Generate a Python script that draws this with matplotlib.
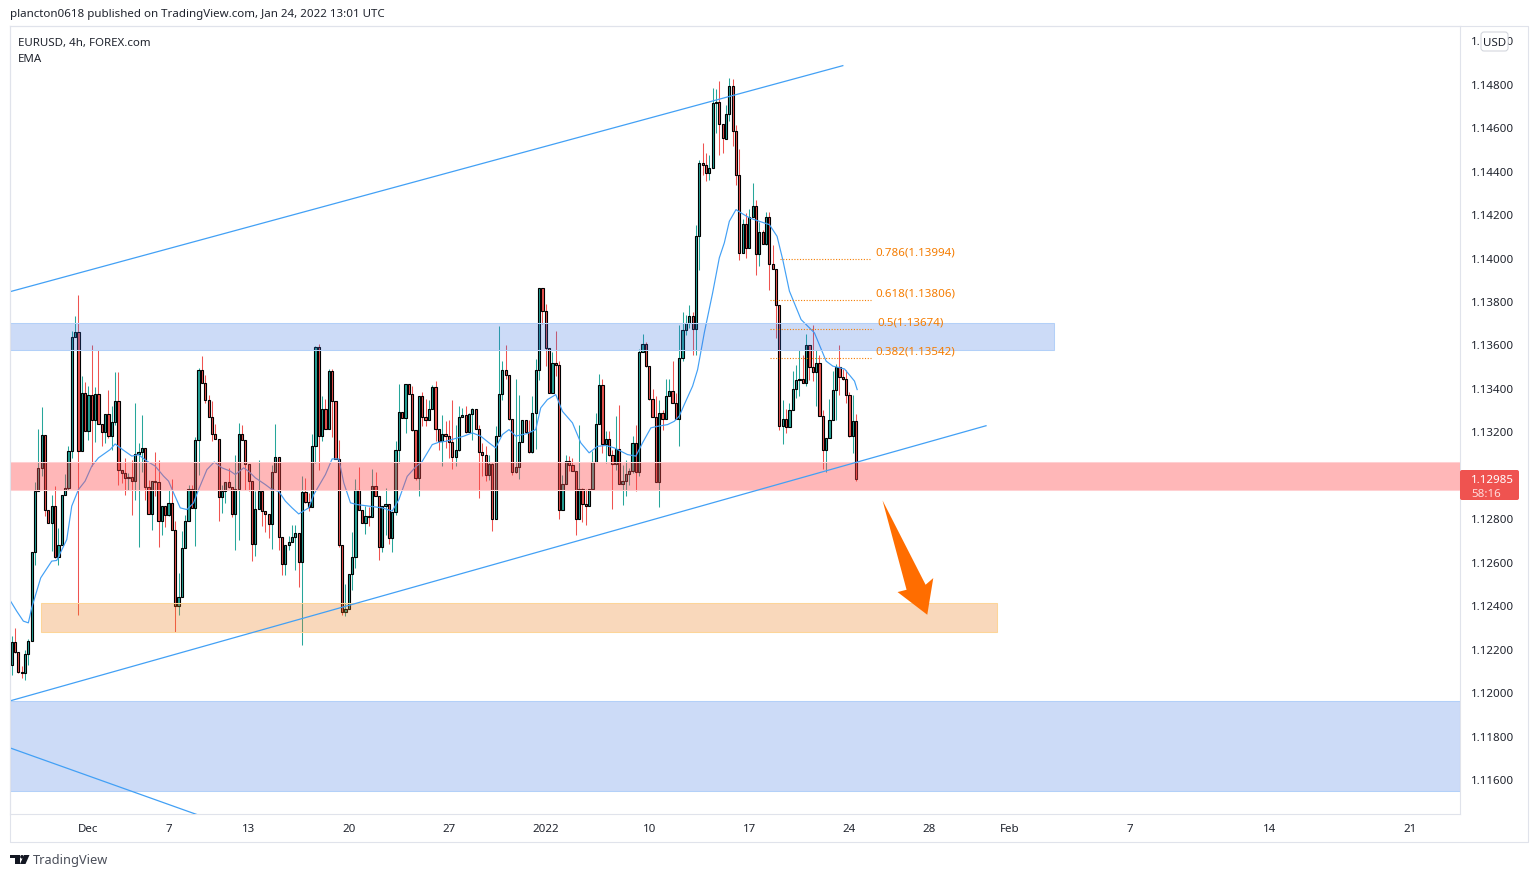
import matplotlib
matplotlib.use("Agg")
import matplotlib.pyplot as plt
from matplotlib.patches import Polygon, Rectangle, FancyBboxPatch, Circle
from matplotlib.transforms import ScaledTranslation

plt.rcParams['font.family'] = ['Noto Sans', 'DejaVu Sans']

# Velas de 4h
first_open = 1.12130
closes = [
    1.12235, 1.12189, 1.12095, 1.12091, 1.12179, 1.12238, 1.12649, 1.12929, 1.13035, 1.13187,
    1.12842, 1.12782, 1.12859, 1.12626, 1.12681, 1.12911, 1.12941, 1.13113, 1.13637, 1.13660,
    1.13113, 1.13378, 1.13205, 1.13371, 1.13256, 1.13375, 1.13237, 1.13199, 1.13283, 1.13181,
    1.13245, 1.13343, 1.13026, 1.13010, 1.12989, 1.12992, 1.12974, 1.13098, 1.13107, 1.13127,
    1.12947, 1.12823, 1.12975, 1.12972, 1.12791, 1.12859, 1.12819, 1.12874, 1.12750, 1.12400,
    1.12442, 1.12667, 1.12791, 1.12938, 1.12852, 1.13164, 1.13487, 1.13426, 1.13348, 1.13269,
    1.13191, 1.13168, 1.12901, 1.12929, 1.12971, 1.12947, 1.12823, 1.12938, 1.13191, 1.13164,
    1.13053, 1.12973, 1.12685, 1.12846, 1.12929, 1.12837, 1.12823, 1.12777, 1.13016, 1.13085,
    1.12717, 1.12593, 1.12681, 1.12694, 1.12717, 1.12736, 1.12602, 1.12924, 1.12877, 1.12855,
    1.13136, 1.13591, 1.13180, 1.13306, 1.13214, 1.13481, 1.13343, 1.13076, 1.12679, 1.12373,
    1.12386, 1.12547, 1.12626, 1.12934, 1.12842, 1.12782, 1.12813, 1.12808, 1.12952, 1.12906,
    1.12671, 1.12859, 1.12869, 1.12713, 1.12832, 1.13116, 1.13292, 1.13265, 1.13421, 1.13375,
    1.13211, 1.12989, 1.13364, 1.13268, 1.13254, 1.13306, 1.13407, 1.13214, 1.13157, 1.13190,
    1.13181, 1.13154, 1.13085, 1.13118, 1.13269, 1.13279, 1.13199, 1.13283, 1.13306, 1.13214,
    1.13108, 1.13095, 1.13001, 1.13053, 1.12800, 1.13181, 1.13374, 1.13484, 1.13461, 1.13260,
    1.13016, 1.13039, 1.13154, 1.13256, 1.13200, 1.13108, 1.13288, 1.13486, 1.13863, 1.13755,
    1.13587, 1.13380, 1.13518, 1.13507, 1.12842, 1.12961, 1.13066, 1.13047, 1.13020, 1.12800,
    1.12938, 1.12869, 1.12859, 1.12938, 1.13062, 1.13237, 1.13417, 1.13144, 1.13168, 1.13095,
    1.13053, 1.13122, 1.12961, 1.12975, 1.13007, 1.13021, 1.13150, 1.13016, 1.13568, 1.13605,
    1.13504, 1.13352, 1.13269, 1.12970, 1.13288, 1.13260, 1.13366, 1.13387, 1.13334, 1.13260,
    1.13541, 1.13670, 1.13702, 1.13733, 1.13674, 1.14102, 1.14438, 1.14427, 1.14392, 1.14415,
    1.14714, 1.14718, 1.14617, 1.14550, 1.14663, 1.14792, 1.14585, 1.14383, 1.14024, 1.14157,
    1.14045, 1.14189, 1.14240, 1.14019, 1.14120, 1.14065, 1.14189, 1.13972, 1.13950, 1.13783,
    1.13228, 1.13260, 1.13224, 1.13302, 1.13398, 1.13440, 1.13442, 1.13424, 1.13601, 1.13500,
    1.13477, 1.13518, 1.13273, 1.13118, 1.13173, 1.13256, 1.13394, 1.13500, 1.13454, 1.13444,
    1.13371, 1.13181, 1.13251, 1.12985,
]
highs = [
    1.12261, 1.12299, 1.12189, 1.12123, 1.12199, 1.12248, 1.12649, 1.12972, 1.13216, 1.13317,
    1.13187, 1.12843, 1.12908, 1.12951, 1.12759, 1.12911, 1.13009, 1.13134, 1.13663, 1.13732,
    1.13832, 1.13456, 1.13430, 1.13410, 1.13602, 1.13407, 1.13579, 1.13237, 1.13283, 1.13395,
    1.13318, 1.13476, 1.13476, 1.13026, 1.13081, 1.13012, 1.13073, 1.13334, 1.13150, 1.13276,
    1.13127, 1.12981, 1.12975, 1.13107, 1.13073, 1.12859, 1.12859, 1.12932, 1.12984, 1.12790,
    1.12552, 1.12744, 1.12820, 1.12958, 1.12958, 1.13177, 1.13495, 1.13551, 1.13464, 1.13372,
    1.13341, 1.13239, 1.13168, 1.12954, 1.12971, 1.13035, 1.12947, 1.13096, 1.13242, 1.13234,
    1.13164, 1.13053, 1.12973, 1.12927, 1.13073, 1.12929, 1.12837, 1.12823, 1.13050, 1.13239,
    1.13085, 1.12717, 1.12681, 1.12721, 1.12774, 1.12774, 1.12736, 1.12996, 1.12989, 1.12920,
    1.13193, 1.13597, 1.13607, 1.13367, 1.13354, 1.13492, 1.13492, 1.13343, 1.13161, 1.12679,
    1.12503, 1.12547, 1.12742, 1.12986, 1.13041, 1.12842, 1.12859, 1.12855, 1.13032, 1.13016,
    1.12906, 1.12859, 1.12943, 1.12869, 1.12832, 1.13157, 1.13421, 1.13292, 1.13421, 1.13421,
    1.13410, 1.13211, 1.13364, 1.13384, 1.13354, 1.13349, 1.13418, 1.13436, 1.13214, 1.13280,
    1.13249, 1.13253, 1.13345, 1.13234, 1.13318, 1.13311, 1.13318, 1.13288, 1.13311, 1.13306,
    1.13234, 1.13150, 1.13134, 1.13096, 1.13058, 1.13226, 1.13689, 1.13525, 1.13602, 1.13464,
    1.13260, 1.13446, 1.13372, 1.13256, 1.13257, 1.13257, 1.13364, 1.13538, 1.13863, 1.13863,
    1.13791, 1.13587, 1.13567, 1.13666, 1.13525, 1.13004, 1.13093, 1.13089, 1.13081, 1.13020,
    1.13230, 1.12943, 1.12938, 1.12938, 1.13112, 1.13288, 1.13469, 1.13446, 1.13203, 1.13203,
    1.13119, 1.13272, 1.13322, 1.13050, 1.13073, 1.13035, 1.13180, 1.13230, 1.13584, 1.13653,
    1.13614, 1.13504, 1.13398, 1.13364, 1.13349, 1.13303, 1.13446, 1.13446, 1.13525, 1.13380,
    1.13690, 1.13753, 1.13736, 1.13782, 1.13753, 1.14154, 1.14453, 1.14530, 1.14484, 1.14476,
    1.14783, 1.14780, 1.14816, 1.14617, 1.14706, 1.14829, 1.14824, 1.14614, 1.14504, 1.14182,
    1.14208, 1.14226, 1.14346, 1.14269, 1.14165, 1.14131, 1.14211, 1.14211, 1.14062, 1.13950,
    1.13783, 1.13349, 1.13306, 1.13334, 1.13480, 1.13510, 1.13575, 1.13553, 1.13651, 1.13601,
    1.13694, 1.13579, 1.13556, 1.13299, 1.13173, 1.13354, 1.13480, 1.13515, 1.13602, 1.13492,
    1.13487, 1.13383, 1.13368, 1.13283,
]
lows = [
    1.12084, 1.12184, 1.12092, 1.12069, 1.12061, 1.12130, 1.12238, 1.12590, 1.12929, 1.12997,
    1.12813, 1.12782, 1.12652, 1.12621, 1.12586, 1.12681, 1.12911, 1.12935, 1.13081, 1.13637,
    1.12360, 1.13113, 1.13205, 1.13165, 1.13043, 1.13153, 1.13237, 1.13134, 1.13150, 1.13173,
    1.13119, 1.13230, 1.12958, 1.12966, 1.12908, 1.12932, 1.12820, 1.12886, 1.12670, 1.13015,
    1.12889, 1.12823, 1.12751, 1.12905, 1.12670, 1.12728, 1.12764, 1.12813, 1.12750, 1.12279,
    1.12360, 1.12442, 1.12667, 1.12791, 1.12852, 1.12675, 1.13004, 1.13426, 1.13334, 1.13269,
    1.13157, 1.13168, 1.12790, 1.12828, 1.12874, 1.12943, 1.12808, 1.12656, 1.12702, 1.13164,
    1.12935, 1.12927, 1.12606, 1.12629, 1.12846, 1.12767, 1.12739, 1.12713, 1.12664, 1.13016,
    1.12659, 1.12541, 1.12541, 1.12659, 1.12694, 1.12564, 1.12486, 1.12219, 1.12874, 1.12836,
    1.12855, 1.13058, 1.13027, 1.13157, 1.13214, 1.13214, 1.13177, 1.13076, 1.12671, 1.12356,
    1.12353, 1.12386, 1.12475, 1.12573, 1.12842, 1.12782, 1.12733, 1.12767, 1.12808, 1.12905,
    1.12610, 1.12647, 1.12725, 1.12687, 1.12647, 1.12820, 1.13058, 1.13265, 1.13196, 1.13375,
    1.13203, 1.12978, 1.12904, 1.13226, 1.13226, 1.13254, 1.13306, 1.13157, 1.13116, 1.13042,
    1.13127, 1.13081, 1.13032, 1.13043, 1.13112, 1.13269, 1.13196, 1.13199, 1.13162, 1.13214,
    1.12897, 1.12997, 1.12974, 1.12981, 1.12744, 1.12800, 1.13181, 1.13349, 1.13446, 1.13257,
    1.13004, 1.13012, 1.12986, 1.13154, 1.13196, 1.13104, 1.13104, 1.13124, 1.13441, 1.13697,
    1.13505, 1.13380, 1.13380, 1.13456, 1.12802, 1.12842, 1.12961, 1.13020, 1.13020, 1.12725,
    1.12800, 1.12785, 1.12774, 1.12859, 1.12938, 1.13062, 1.13237, 1.13104, 1.13058, 1.13089,
    1.12848, 1.13024, 1.12961, 1.12862, 1.12905, 1.12958, 1.13012, 1.12928, 1.12997, 1.13568,
    1.13499, 1.13349, 1.13269, 1.12970, 1.12854, 1.13211, 1.13260, 1.13364, 1.13334, 1.13260,
    1.13135, 1.13526, 1.13648, 1.13679, 1.13556, 1.13552, 1.13947, 1.14384, 1.14353, 1.14361,
    1.14415, 1.14576, 1.14476, 1.14484, 1.14550, 1.14629, 1.14514, 1.14335, 1.13989, 1.14024,
    1.14001, 1.14045, 1.14189, 1.13920, 1.13963, 1.14065, 1.14062, 1.13855, 1.13950, 1.13633,
    1.13208, 1.13147, 1.13196, 1.13224, 1.13302, 1.13357, 1.13365, 1.13424, 1.13411, 1.13441,
    1.13434, 1.13319, 1.13273, 1.13032, 1.13015, 1.13173, 1.13256, 1.13257, 1.13372, 1.13441,
    1.13334, 1.13176, 1.13104, 1.12974,
]

ema_x = [
    -0.5, 1.5, 3.5, 5, 6, 8.7, 12, 13.5, 16.5, 18, 20, 22, 24, 26, 29.5, 31, 33.5, 36, 38, 40.5,
    43, 45.5, 47, 48.5, 50.5, 52.5, 54.5, 56, 58.5, 60.7, 63, 65.5, 67, 69.5, 71, 73, 76, 78, 80,
    82, 84, 86, 89, 90.5, 94, 96, 98, 99.5, 101.5, 103.5, 107, 111, 114, 116, 118.5, 121, 123,
    126, 128, 130, 132.5, 135.5, 138, 140.5, 143, 145, 147, 149, 151, 154.5, 157, 158.5, 160.5,
    163, 165, 168, 170.5, 173, 175.5, 178, 180.5, 184.5, 187, 189, 191.5, 193.5, 196.5, 198.5,
    200, 201.5, 204, 205.5, 207.5, 210, 212, 213.5, 215, 217, 219, 221, 224, 227, 229.3, 231,
    233, 236.5, 240.5, 244, 246, 249.5, 252.5, 253.3,
]
ema_y = [
    1.12426, 1.12376, 1.12330, 1.12322, 1.12391, 1.12529, 1.12606, 1.12609, 1.12705, 1.12859,
    1.12935, 1.12974, 1.13043, 1.13081, 1.13119, 1.13145, 1.13116, 1.13089, 1.13096, 1.13066,
    1.13043, 1.12997, 1.12974, 1.12920, 1.12851, 1.12843, 1.12874, 1.12935, 1.13027, 1.13062,
    1.13035, 1.13020, 1.13004, 1.13035, 1.13019, 1.12989, 1.12958, 1.12935, 1.12927, 1.12882,
    1.12851, 1.12823, 1.12851, 1.12912, 1.13004, 1.13076, 1.13076, 1.12966, 1.12874, 1.12866,
    1.12859, 1.12851, 1.12836, 1.12889, 1.12996, 1.13039, 1.13065, 1.13142, 1.13153, 1.13157,
    1.13168, 1.13181, 1.13196, 1.13181, 1.13150, 1.13127, 1.13188, 1.13211, 1.13181, 1.13193,
    1.13211, 1.13311, 1.13349, 1.13372, 1.13295, 1.13242, 1.13150, 1.13104, 1.13134, 1.13138,
    1.13127, 1.13096, 1.13089, 1.13150, 1.13219, 1.13226, 1.13234, 1.13249, 1.13273, 1.13326,
    1.13411, 1.13487, 1.13656, 1.13840, 1.14001, 1.14070, 1.14169, 1.14223, 1.14203, 1.14185,
    1.14169, 1.14154, 1.14100, 1.13993, 1.13848, 1.13717, 1.13656, 1.13526, 1.13503, 1.13490,
    1.13434, 1.13395,
]

# Ejes (el 1.13000 queda tapado por la etiqueta del precio)
price_ticks = [1.116, 1.118, 1.120, 1.122, 1.124, 1.126, 1.128, 1.132, 1.134, 1.136, 1.138,
               1.140, 1.142, 1.144, 1.146, 1.148, 1.150]
date_pos = [23, 47, 71, 101, 131, 160, 191, 221, 251, 275, 299, 335, 377, 419]
date_labels = ['Dec', '7', '13', '20', '27', '2022', '10', '17', '24', '28', 'Feb', '7', '14', '21']

# Fibonacci: nivel, precio, inicio y fin en velas
fib_names = ['0.786', '0.618', '0.5', '0.382']
fib_prices = [1.13994, 1.13806, 1.13674, 1.13542]
fib_start = [230.2, 227.2, 227.2, 227.2]
fib_end = [257.4, 257.4, 258, 257.4]

# Colores
GRID = '#e0e3eb'
TEXT = '#20242e'
GREEN = '#26a69a'
RED = '#ef5350'
BLUE_LINE = '#42a0f5'
FIB = '#f57c00'
FS = 8.3

W, H = 1538, 878
fig = plt.figure(figsize=(W / 100, H / 100), dpi=100)
ax = fig.add_axes([10 / W, 1 - 815 / H, 1450 / W, 788 / H])
ax.set_xlim(-0.5, 433.9)
ax.set_ylim(1.114427, 1.150675)

opens = [first_open] + closes[:-1]
x = list(range(len(closes)))
wick_col = [GREEN if c >= o else RED for o, c in zip(opens, closes)]

ax.vlines(x, lows, highs, colors=wick_col, linewidth=0.75, zorder=2)
ax.bar(x, [c - o for o, c in zip(opens, closes)], bottom=opens, width=0.66,
       color=wick_col, edgecolor='black', linewidth=0.8, zorder=3)
ax.plot(ema_x, ema_y, color=BLUE_LINE, linewidth=0.85, zorder=4)

# Zonas
ax.add_patch(Rectangle((-0.5, 1.13579), 312.7, 0.00124, facecolor=(0.216, 0.451, 0.89, 0.25),
                       edgecolor='#b3d0f8', linewidth=0.75, zorder=5))
ax.add_patch(Rectangle((-0.5, 1.12935), 434.4, 0.00129, facecolor=(1, 0.30, 0.31, 0.4),
                       edgecolor='#ffd0d2', linewidth=0.75, zorder=5))
ax.add_patch(Rectangle((8.8, 1.12281), 286.4, 0.00133, facecolor=(0.933, 0.5, 0.125, 0.3),
                       edgecolor='#fdd598', linewidth=0.75, zorder=5))
ax.add_patch(Rectangle((-0.5, 1.11549), 434.4, 0.00414, facecolor=(0.216, 0.451, 0.89, 0.25),
                       edgecolor='#b3d0f8', linewidth=0.75, zorder=5))

# Lineas de tendencia
ax.plot([-0.5, 249.0], [1.138453, 1.148851], color=BLUE_LINE, linewidth=0.9, zorder=6)
ax.plot([-0.5, 291.9], [1.119630, 1.132287], color=BLUE_LINE, linewidth=0.9, zorder=6)
ax.plot([-0.5, 55.8], [1.117468, 1.114385], color=BLUE_LINE, linewidth=0.9, zorder=6)

# Niveles de Fibonacci
for name, p, a, b in zip(fib_names, fib_prices, fib_start, fib_end):
    ax.plot([a, b], [p, p], color=FIB, linewidth=0.8, linestyle=(0, (1, 1.5)), zorder=6)
    ax.annotate(f"{name}({p:.5f})", (b, p), xytext=(3.6, 5.0),
                textcoords='offset points', color=FIB, fontsize=FS, fontweight='medium',
                va='center', ha='left', zorder=7)

# Flecha
ax.add_patch(Polygon([(260.9, 1.128851), (273.8, 1.124972), (276.1, 1.125280), (274.3, 1.123592),
                      (265.4, 1.124636), (268.1, 1.124742)], closed=True,
                     facecolor='#ff6d00', edgecolor='none', zorder=7))

# Ticks
ax.yaxis.tick_right()
ax.set_yticks(price_ticks)
ax.set_yticklabels([f"{p:.5f}" for p in price_ticks], color=TEXT, fontsize=FS)
ax.set_xticks(date_pos)
ax.set_xticklabels(date_labels, color=TEXT, fontsize=FS)
ax.get_xticklabels()[5].set_fontweight('bold')
ax.tick_params(axis='both', length=0)
ax.tick_params(axis='y', pad=7.9)
ax.tick_params(axis='x', pad=6.7)
subir = ScaledTranslation(0, 0.4 / 72, fig.dpi_scale_trans)
for lab in ax.get_yticklabels():
    lab.set_transform(lab.get_transform() + subir)
for s in ax.spines.values():
    s.set_color(GRID)
    s.set_linewidth(0.8)

# Capa superior en pixeles para el resto de la pantalla
ov = fig.add_axes([0, 0, 1, 1], zorder=10)
ov.set_xlim(0, W)
ov.set_ylim(H, 0)
ov.axis('off')
ov.patch.set_alpha(0)

ov.plot([10, 1528, 1528, 10, 10], [27, 27, 843, 843, 27], color=GRID, linewidth=0.8)

ov.text(10, 15, "plancton0618 published on TradingView.com, Jan 24, 2022 13:01 UTC",
        color=TEXT, fontsize=FS, va='center', ha='left')
ov.text(18, 43.3, "EURUSD, 4h, FOREX.com", color=TEXT, fontsize=FS, va='center', ha='left')
ov.text(18, 59.3, "EMA", color=TEXT, fontsize=FS, va='center', ha='left')

# Caja USD
ov.add_patch(FancyBboxPatch((1481, 33), 27, 19, boxstyle="round,pad=0,rounding_size=3",
                            facecolor='white', edgecolor='#d1d4dc', linewidth=0.75))
ov.text(1494.5, 43.3, "USD", color=TEXT, fontsize=FS, va='center', ha='center')

# Etiqueta del precio actual
ov.add_patch(FancyBboxPatch((1460, 471), 59, 30, boxstyle="round,pad=0,rounding_size=2",
                            facecolor=RED, edgecolor='none'))
ov.text(1471, 480.8, "1.12985", color='white', fontsize=FS, fontweight='bold', va='center', ha='left')
ov.text(1471, 494.8, "58:16", color='#ffdcdc', fontsize=FS, fontweight='bold', va='center', ha='left')

# Logo y marca
ov.add_patch(Polygon([(10, 856), (19.5, 856), (19.5, 865), (14.5, 865), (14.5, 859.5), (10, 859.5)],
                     closed=True, facecolor='#131722', edgecolor='none'))
ov.add_patch(Circle((22, 857.8), 1.8, facecolor='#131722', edgecolor='none'))
ov.add_patch(Polygon([(24, 856), (29.5, 856), (25.5, 865), (20, 865)], closed=True,
                     facecolor='#131722', edgecolor='none'))
ov.text(33, 860.5, "TradingView", color='#4a4e59', fontsize=9.2, va='center', ha='left')

fig.savefig("out.png", dpi=100)
